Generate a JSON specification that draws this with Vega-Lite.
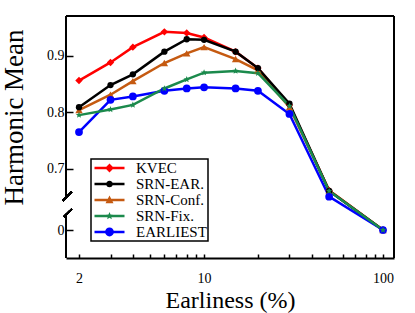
{
  "$schema": "https://vega.github.io/schema/vega-lite/v6.json",
  "width": 328,
  "height": 242,
  "autosize": {"type": "none"},
  "padding": {"left": 66, "top": 16, "right": 21, "bottom": 55},
  "background": "white",
  "config": {"view": {"stroke": null}, "font": "Times New Roman, Liberation Serif, DejaVu Serif, serif"},
  "data": {"values": [
    {"method": "KVEC", "e": 2, "hm": 0.856}, {"method": "KVEC", "e": 3, "hm": 0.888}, {"method": "KVEC", "e": 4, "hm": 0.915}, {"method": "KVEC", "e": 6, "hm": 0.942}, {"method": "KVEC", "e": 8, "hm": 0.940}, {"method": "KVEC", "e": 10, "hm": 0.932}, {"method": "KVEC", "e": 15, "hm": 0.907}, {"method": "KVEC", "e": 20, "hm": 0.878}, {"method": "KVEC", "e": 30, "hm": 0.813}, {"method": "KVEC", "e": 50, "hm": 0.662}, {"method": "KVEC", "e": 100, "hm": 0},
    {"method": "SRN-Conf.", "e": 2, "hm": 0.804}, {"method": "SRN-Conf.", "e": 3, "hm": 0.831}, {"method": "SRN-Conf.", "e": 4, "hm": 0.855}, {"method": "SRN-Conf.", "e": 6, "hm": 0.887}, {"method": "SRN-Conf.", "e": 8, "hm": 0.904}, {"method": "SRN-Conf.", "e": 10, "hm": 0.915}, {"method": "SRN-Conf.", "e": 15, "hm": 0.894}, {"method": "SRN-Conf.", "e": 20, "hm": 0.874}, {"method": "SRN-Conf.", "e": 30, "hm": 0.809}, {"method": "SRN-Conf.", "e": 50, "hm": 0.662}, {"method": "SRN-Conf.", "e": 100, "hm": 0},
    {"method": "SRN-EAR.", "e": 2, "hm": 0.809}, {"method": "SRN-EAR.", "e": 3, "hm": 0.848}, {"method": "SRN-EAR.", "e": 4, "hm": 0.867}, {"method": "SRN-EAR.", "e": 6, "hm": 0.907}, {"method": "SRN-EAR.", "e": 8, "hm": 0.929}, {"method": "SRN-EAR.", "e": 10, "hm": 0.928}, {"method": "SRN-EAR.", "e": 15, "hm": 0.907}, {"method": "SRN-EAR.", "e": 20, "hm": 0.878}, {"method": "SRN-EAR.", "e": 30, "hm": 0.815}, {"method": "SRN-EAR.", "e": 50, "hm": 0.661}, {"method": "SRN-EAR.", "e": 100, "hm": 0},
    {"method": "EARLIEST", "e": 2, "hm": 0.765}, {"method": "EARLIEST", "e": 3, "hm": 0.822}, {"method": "EARLIEST", "e": 4, "hm": 0.828}, {"method": "EARLIEST", "e": 6, "hm": 0.838}, {"method": "EARLIEST", "e": 8, "hm": 0.842}, {"method": "EARLIEST", "e": 10, "hm": 0.844}, {"method": "EARLIEST", "e": 15, "hm": 0.842}, {"method": "EARLIEST", "e": 20, "hm": 0.838}, {"method": "EARLIEST", "e": 30, "hm": 0.797}, {"method": "EARLIEST", "e": 50, "hm": 0.651}, {"method": "EARLIEST", "e": 100, "hm": 0},
    {"method": "SRN-Fix.", "e": 2, "hm": 0.795}, {"method": "SRN-Fix.", "e": 3, "hm": 0.805}, {"method": "SRN-Fix.", "e": 4, "hm": 0.813}, {"method": "SRN-Fix.", "e": 6, "hm": 0.842}, {"method": "SRN-Fix.", "e": 8, "hm": 0.858}, {"method": "SRN-Fix.", "e": 10, "hm": 0.870}, {"method": "SRN-Fix.", "e": 15, "hm": 0.873}, {"method": "SRN-Fix.", "e": 20, "hm": 0.869}, {"method": "SRN-Fix.", "e": 30, "hm": 0.811}, {"method": "SRN-Fix.", "e": 50, "hm": 0.661}, {"method": "SRN-Fix.", "e": 100, "hm": 0}
  ]},
  "layer": [
    {
      "mark": {"type": "line", "strokeWidth": 2.5},
      "encoding": {
        "x": {"field": "e", "type": "quantitative",
          "scale": {"type": "log", "domain": [1.692, 115.2], "nice": false},
          "axis": {"values": [2,3,4,5,6,7,8,9,10,20,30,40,50,60,70,80,90,100],
            "labelExpr": "indexof([2,10,100], datum.value) >= 0 ? format(datum.value, 'd') : ''",
            "grid": false, "tickSize": -4, "tickWidth": 1.5, "tickColor": "black",
            "domainColor": "black", "domainWidth": 2,
            "labelFont": "Times New Roman, Liberation Serif, DejaVu Serif, serif", "labelFontSize": 14, "labelColor": "black", "labelPadding": 17,
            "title": "Earliness (%)", "titleFont": "Times New Roman, Liberation Serif, DejaVu Serif, serif", "titleFontSize": 24, "titleFontWeight": "normal",
            "titleColor": "black", "titleBaseline": "alphabetic", "titleY": 49.5}},
        "y": {"field": "hm", "type": "quantitative",
          "scale": {"domain": [-0.0495, 0, 0.64, 0.97], "range": [242, 214, 186.9, 0], "zero": false, "nice": false},
          "axis": {"values": [0, 0.7, 0.8, 0.9],
            "labelExpr": "datum.value === 0 ? '0' : format(datum.value, '.1f')",
            "grid": false, "domain": false, "tickSize": -7, "tickWidth": 1.5, "tickColor": "black",
            "labelFont": "Times New Roman, Liberation Serif, DejaVu Serif, serif", "labelFontSize": 14, "labelColor": "black", "labelPadding": 9,
            "title": "Harmonic Mean", "titleFont": "Times New Roman, Liberation Serif, DejaVu Serif, serif", "titleFontSize": 27, "titleFontWeight": "normal",
            "titleColor": "black", "titleBaseline": "alphabetic", "titleAlign": "center", "titleAngle": -90, "titleX": -44, "titleY": 101}},
        "color": {"field": "method", "type": "nominal",
          "scale": {"domain": ["KVEC", "SRN-EAR.", "SRN-Conf.", "SRN-Fix.", "EARLIEST"],
                    "range": ["#ff0000", "#000000", "#c55a11", "#1b8a4c", "#0000ff"]},
          "legend": {"title": null, "orient": "none", "legendX": 25, "legendY": 143,
            "padding": 1, "strokeColor": "black", "fillColor": "white",
            "symbolSize": 256, "symbolOffset": 9.5, "labelOffset": 18.5, "rowPadding": -0.6,
            "labelFont": "Times New Roman, Liberation Serif, DejaVu Serif, serif", "labelFontSize": 15, "labelColor": "black",
            "encode": {
              "legend": {"update": {"strokeWidth": {"value": 1.5}}},
              "symbols": {"update": {
              "shape": {"signal": "datum.value === 'KVEC' ? 'M-1.875,-0.16L1.875,-0.16L1.875,0.16L-1.875,0.16ZM0,-0.55L0.55,0L0,0.55L-0.55,0Z' : datum.value === 'SRN-EAR.' ? 'M-1.875,-0.16L1.875,-0.16L1.875,0.16L-1.875,0.16ZM-0.42,0A0.42,0.42,0,1,1,0.42,0A0.42,0.42,0,1,1,-0.42,0Z' : datum.value === 'SRN-Conf.' ? 'M-1.875,-0.16L1.875,-0.16L1.875,0.16L-1.875,0.16ZM0,-0.55L0.5,0.4L-0.5,0.4Z' : datum.value === 'SRN-Fix.' ? 'M-1.875,-0.16L1.875,-0.16L1.875,0.16L-1.875,0.16ZM0,-0.5L0.13,-0.18L0.48,-0.15L0.21,0.07L0.29,0.4L0,0.22L-0.29,0.4L-0.21,0.07L-0.48,-0.15L-0.13,-0.18Z' : 'M-1.875,-0.16L1.875,-0.16L1.875,0.16L-1.875,0.16ZM-0.55,0A0.55,0.55,0,1,1,0.55,0A0.55,0.55,0,1,1,-0.55,0Z'"},
              "fill": {"scale": "color", "field": "value"},
              "fillOpacity": {"value": 1},
              "strokeWidth": {"value": 0}
            }}}}
        }
      }
    },
    {
      "transform": [{"filter": "datum.method === 'KVEC'"}],
      "mark": {"type": "point", "filled": true, "opacity": 1, "shape": "diamond", "size": 55, "color": "#ff0000"},
      "encoding": {"x": {"field": "e", "type": "quantitative"}, "y": {"field": "hm", "type": "quantitative"}}
    },
    {
      "transform": [{"filter": "datum.method === 'SRN-Conf.'"}],
      "mark": {"type": "point", "filled": true, "opacity": 1, "shape": "triangle-up", "size": 55, "color": "#c55a11"},
      "encoding": {"x": {"field": "e", "type": "quantitative"}, "y": {"field": "hm", "type": "quantitative"}}
    },
    {
      "transform": [{"filter": "datum.method === 'SRN-EAR.'"}],
      "mark": {"type": "point", "filled": true, "opacity": 1, "shape": "circle", "size": 40, "color": "#000000"},
      "encoding": {"x": {"field": "e", "type": "quantitative"}, "y": {"field": "hm", "type": "quantitative"}}
    },
    {
      "transform": [{"filter": "datum.method === 'EARLIEST'"}],
      "mark": {"type": "point", "filled": true, "opacity": 1, "shape": "circle", "size": 60, "color": "#0000ff"},
      "encoding": {"x": {"field": "e", "type": "quantitative"}, "y": {"field": "hm", "type": "quantitative"}}
    },
    {
      "transform": [{"filter": "datum.method === 'SRN-Fix.'"}],
      "mark": {"type": "point", "filled": true, "opacity": 1, "shape": "M0,-1L0.265,-0.364L0.951,-0.309L0.428,0.139L0.588,0.809L0,0.45L-0.588,0.809L-0.428,0.139L-0.951,-0.309L-0.265,-0.364Z", "size": 45, "color": "#1b8a4c"},
      "encoding": {"x": {"field": "e", "type": "quantitative"}, "y": {"field": "hm", "type": "quantitative"}}
    },
    {
      "mark": {"type": "rule", "strokeWidth": 2, "color": "black"},
      "encoding": {"y": {"datum": 0.97}}
    },
    {
      "mark": {"type": "rule", "strokeWidth": 2, "color": "black"},
      "encoding": {"x": {"datum": 115.2}}
    },
    {
      "mark": {"type": "rule", "strokeWidth": 2, "color": "black"},
      "encoding": {"x": {"datum": 1.692}, "y": {"datum": 0.97}, "y2": {"datum": 0.65}}
    },
    {
      "mark": {"type": "rule", "strokeWidth": 2, "color": "black"},
      "encoding": {"x": {"datum": 1.692}, "y": {"datum": 0.354}, "y2": {"datum": -0.0495}}
    },
    {
      "mark": {"type": "rule", "strokeWidth": 1.5, "color": "black"},
      "encoding": {"x": {"datum": 1.82}, "x2": {"datum": 1.621}, "y": {"datum": 0.6597}, "y2": {"datum": 0.6438}}
    },
    {
      "mark": {"type": "rule", "strokeWidth": 1.5, "color": "black"},
      "encoding": {"x": {"datum": 1.82}, "x2": {"datum": 1.649}, "y": {"datum": 0.489}, "y2": {"datum": 0.314}}
    }
  ]
}
